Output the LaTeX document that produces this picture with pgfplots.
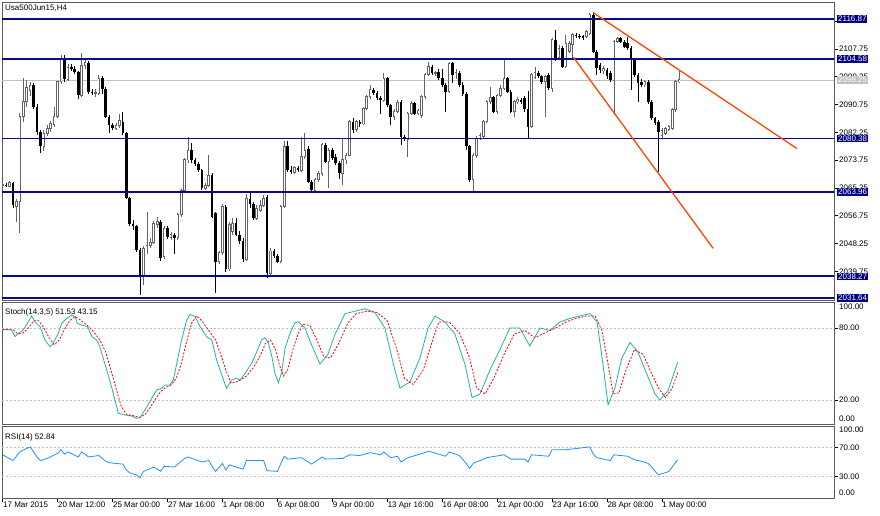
\documentclass[border=0pt]{standalone}
\usepackage{fontspec}
\setmainfont{Liberation Sans}
\usepackage{pgfplots}
\usepackage{pgfplotstable}
\pgfplotsset{compat=1.18}
\definecolor{mtnavy}{RGB}{0,0,128}
\definecolor{linenavy}{RGB}{8,8,138}
\definecolor{stochc}{RGB}{32,178,170}
\definecolor{rsic}{RGB}{30,144,255}
\definecolor{trend}{RGB}{255,69,0}
\definecolor{framec}{RGB}{90,90,90}
\definecolor{levelc}{RGB}{192,192,192}
\definecolor{bullc}{RGB}{100,100,100}
\newcommand\mtfont{\fontsize{8bp}{9bp}\selectfont}

\pgfplotstableread{
x o h l c
0 2066.0 2066.8 2065.2 2066.2
2 2065.8 2067.5 2065.4 2066.8
4 2059.5 2062.0 2054.9 2061.0
5 2061.0 2088.0 2051.5 2087.0
6 2087.0 2098.8 2085.5 2091.6
7 2091.6 2098.2 2090.0 2096.0
8 2095.0 2097.5 2093.5 2096.7
12 2078.0 2083.0 2076.5 2082.0
13 2082.0 2084.5 2081.0 2083.5
14 2083.5 2085.8 2082.5 2085.0
15 2084.5 2090.0 2084.0 2087.0
16 2087.0 2098.0 2086.5 2097.7
17 2097.7 2105.9 2097.0 2104.9
19 2098.5 2103.0 2097.8 2102.2
23 2093.6 2106.4 2093.0 2102.8
24 2102.8 2104.8 2101.5 2103.5
27 2094.3 2095.5 2093.0 2094.5
28 2094.2 2099.8 2093.8 2098.8
33 2083.5 2085.0 2083.0 2084.2
34 2084.2 2088.0 2083.5 2086.0
41 2038.6 2047.5 2035.6 2046.8
42 2046.0 2058.0 2045.0 2047.8
43 2047.8 2050.0 2047.0 2048.7
44 2048.7 2055.2 2048.0 2054.4
45 2054.0 2056.5 2053.0 2055.0
47 2044.2 2053.5 2043.5 2052.9
49 2050.0 2051.8 2049.5 2051.0
51 2050.0 2057.5 2049.5 2057.0
52 2057.0 2065.0 2056.5 2064.6
53 2064.6 2074.5 2064.0 2073.8
54 2073.8 2080.9 2073.0 2076.8
59 2065.1 2066.8 2064.5 2066.0
60 2066.0 2075.3 2065.5 2069.2
63 2042.7 2046.0 2042.0 2045.4
64 2045.4 2060.5 2044.8 2059.5
66 2040.5 2055.0 2040.0 2054.0
67 2052.0 2056.0 2051.0 2054.5
71 2043.5 2063.5 2043.0 2062.0
74 2056.0 2060.0 2055.5 2059.0
75 2058.5 2061.5 2058.0 2060.0
76 2060.0 2063.1 2059.5 2062.0
78 2039.2 2047.0 2038.0 2046.0
81 2042.7 2060.0 2042.2 2059.5
82 2059.5 2079.5 2059.0 2078.0
85 2070.0 2072.0 2069.5 2071.5
87 2070.7 2080.9 2070.0 2074.8
88 2074.8 2081.9 2074.0 2076.8
91 2064.6 2068.2 2063.8 2067.7
92 2067.7 2070.5 2067.0 2069.7
93 2069.7 2079.0 2069.0 2078.4
95 2073.3 2077.5 2065.1 2076.8
99 2069.7 2080.4 2066.1 2073.8
100 2073.8 2076.0 2072.5 2075.3
101 2075.3 2086.0 2075.0 2085.5
103 2083.0 2086.0 2082.5 2085.5
105 2084.8 2090.0 2084.5 2089.6
106 2089.6 2093.5 2089.0 2093.1
107 2093.1 2096.7 2092.5 2095.2
111 2092.0 2100.3 2091.5 2098.7
114 2087.0 2089.5 2086.0 2088.5
115 2088.5 2092.0 2088.0 2091.5
118 2080.0 2088.5 2074.8 2088.0
119 2088.0 2091.8 2087.5 2091.1
121 2088.0 2089.5 2087.5 2089.0
122 2087.5 2093.5 2086.5 2093.1
123 2093.1 2100.3 2092.5 2099.8
124 2099.8 2103.8 2099.3 2102.3
126 2100.3 2101.0 2099.5 2100.5
130 2094.7 2103.8 2094.2 2103.3
132 2099.8 2101.5 2098.5 2100.5
137 2067.8 2075.8 2063.6 2075.3
138 2075.3 2081.0 2074.5 2080.5
139 2080.5 2082.0 2079.8 2081.2
140 2080.9 2086.0 2080.3 2085.5
141 2085.5 2092.0 2085.0 2091.6
142 2091.6 2096.0 2091.0 2093.0
144 2088.6 2094.0 2088.0 2093.6
145 2093.6 2096.6 2093.0 2095.7
146 2095.7 2104.3 2095.2 2098.7
149 2088.6 2092.0 2087.0 2091.6
150 2091.6 2093.0 2091.0 2092.2
154 2084.0 2100.5 2083.5 2099.8
155 2099.0 2102.3 2098.5 2100.5
158 2097.7 2099.8 2087.0 2099.3
160 2095.7 2111.0 2094.5 2110.5
162 2105.0 2109.0 2104.5 2108.0
164 2102.3 2112.0 2101.8 2109.4
165 2107.0 2110.0 2106.5 2109.5
166 2109.0 2112.5 2105.0 2112.0
170 2111.4 2113.5 2111.0 2113.0
171 2112.5 2118.6 2112.0 2118.1
175 2101.0 2102.5 2100.0 2101.8
178 2098.2 2110.5 2087.5 2110.0
179 2110.0 2111.5 2109.5 2111.0
187 2096.7 2098.3 2096.2 2097.7
192 2081.4 2083.5 2080.3 2082.9
193 2082.0 2084.0 2081.5 2083.5
194 2083.0 2084.5 2082.5 2084.0
195 2083.5 2089.6 2083.0 2089.1
196 2089.1 2098.2 2088.6 2097.7
197 2097.7 2101.3 2097.2 2098.25
}\bull

\pgfplotstableread{
x o h l c
1 2066.2 2066.8 2065.5 2065.8
3 2066.8 2067.2 2059.0 2060.0
9 2096.7 2097.2 2089.5 2090.1
10 2090.1 2090.8 2081.5 2082.4
11 2082.4 2083.0 2075.8 2078.0
18 2104.9 2106.0 2097.6 2098.5
20 2102.2 2103.0 2101.0 2101.5
21 2101.5 2102.5 2100.0 2100.6
22 2100.6 2101.0 2092.5 2093.6
25 2103.5 2104.0 2094.0 2094.6
26 2094.6 2095.5 2093.8 2094.3
29 2098.8 2099.5 2094.0 2095.5
30 2095.5 2096.0 2086.5 2087.0
31 2087.0 2087.5 2082.0 2084.5
32 2084.5 2085.2 2083.0 2083.5
35 2085.5 2088.5 2081.5 2082.0
36 2082.0 2082.5 2061.8 2062.1
37 2062.1 2062.5 2053.5 2054.4
38 2054.4 2055.5 2052.5 2053.5
39 2053.5 2054.0 2045.8 2046.3
40 2046.3 2047.0 2032.5 2038.6
46 2055.0 2055.5 2043.0 2043.8
48 2052.9 2053.5 2049.8 2050.4
50 2051.0 2051.5 2045.0 2050.0
55 2076.8 2079.0 2073.0 2073.8
56 2073.8 2074.5 2072.0 2072.7
57 2072.7 2073.2 2070.0 2070.7
58 2070.7 2071.2 2064.5 2065.1
61 2069.2 2069.8 2056.0 2056.5
62 2057.5 2058.0 2033.1 2042.7
65 2059.5 2060.0 2039.5 2040.5
68 2054.5 2056.0 2050.5 2051.0
69 2051.0 2052.0 2048.0 2049.0
70 2049.0 2050.0 2042.7 2043.5
72 2062.0 2064.0 2059.0 2060.5
73 2060.5 2061.0 2055.5 2056.0
77 2062.5 2063.0 2037.6 2039.2
79 2046.0 2046.5 2044.0 2044.5
80 2044.5 2045.0 2042.2 2042.7
83 2078.0 2079.5 2070.2 2070.7
84 2070.7 2072.0 2069.5 2070.0
86 2071.5 2072.0 2070.0 2070.7
89 2077.3 2078.0 2066.8 2067.2
90 2067.2 2067.8 2063.8 2064.6
94 2078.4 2079.0 2072.8 2073.3
96 2076.8 2077.5 2073.8 2074.3
97 2074.8 2075.5 2072.3 2072.8
98 2072.8 2073.5 2068.0 2069.7
102 2085.5 2086.5 2082.0 2083.0
104 2085.5 2086.0 2084.0 2084.8
108 2095.2 2095.8 2093.5 2094.2
109 2094.2 2094.8 2092.0 2092.6
110 2092.6 2093.5 2088.0 2092.0
112 2098.7 2099.2 2090.0 2090.6
113 2090.6 2091.0 2084.5 2087.0
116 2091.5 2092.0 2078.4 2080.9
117 2080.9 2081.5 2079.5 2080.3
120 2091.1 2091.5 2087.5 2088.0
125 2102.3 2102.8 2099.8 2100.3
127 2100.8 2101.5 2098.2 2098.7
128 2099.0 2101.5 2096.2 2096.7
129 2096.7 2097.2 2088.6 2094.7
131 2103.3 2103.8 2097.2 2099.8
133 2100.5 2101.0 2096.2 2096.7
134 2096.7 2097.5 2093.5 2094.0
135 2094.0 2094.5 2077.0 2078.0
136 2078.0 2078.5 2067.2 2067.8
143 2093.0 2093.5 2088.2 2088.6
147 2098.7 2099.2 2094.2 2094.7
148 2094.7 2095.2 2088.0 2088.6
151 2092.2 2092.8 2091.0 2091.6
152 2092.6 2093.2 2088.5 2089.5
153 2089.5 2095.0 2080.4 2084.0
156 2100.5 2101.0 2098.8 2099.3
157 2099.3 2099.8 2097.0 2097.7
159 2099.8 2100.3 2095.2 2095.7
161 2110.5 2113.5 2104.0 2105.0
163 2108.0 2108.5 2101.8 2102.3
167 2112.0 2112.5 2111.0 2111.7
168 2111.7 2112.3 2110.8 2111.5
169 2111.5 2112.0 2110.5 2111.4
172 2118.1 2119.0 2106.5 2106.9
173 2106.9 2107.5 2099.8 2101.8
174 2102.8 2103.5 2100.5 2101.3
176 2101.3 2101.8 2098.5 2099.3
177 2100.3 2101.0 2097.5 2098.2
180 2111.0 2111.5 2109.5 2110.0
181 2110.0 2110.5 2108.0 2108.4
182 2109.4 2111.5 2107.5 2107.9
183 2107.9 2108.5 2095.2 2104.5
184 2104.5 2105.0 2099.3 2099.8
185 2099.8 2100.3 2091.6 2097.2
186 2097.7 2098.5 2096.2 2096.7
188 2097.7 2098.2 2091.0 2091.6
189 2091.6 2092.0 2086.0 2086.5
190 2086.5 2087.0 2084.5 2085.0
191 2085.5 2086.0 2070.2 2082.4
}\bear

\pgfplotsset{
  mt/.style={
    scale only axis, width=832bp, anchor=south west,
    xmin=-0.2, xmax=242.1,
    axis line style={draw=framec, line width=0.8bp},
    tick style={draw=black, line width=0.6bp},
    tick align=outside, major tick length=4bp,
    ytick pos=right,
    ticklabel style={font=\mtfont, inner sep=0pt},
    yticklabel style={anchor=west, xshift=1bp},
    clip=true,
  },
  wick/.style={draw=none, forget plot, mark=none,
    error bars/.cd, y dir=both, y explicit, error mark=none,
    error bar style={line width=0.8bp, draw=#1}},
  body/.style 2 args={draw=none, forget plot, mark=none,
    error bars/.cd, y dir=both, y explicit, error mark=none,
    error bar style={line width=#2, draw=#1}},
}

\begin{document}
\begin{tikzpicture}
\useasboundingbox (0bp,0bp) rectangle (880bp,516bp);

% ---------------- main price window ----------------
\begin{axis}[mt, at={(2bp,216bp)}, height=298bp,
  ymin=2031.02, ymax=2122.06, xtick=\empty,
  ytick={2039.75,2048.25,2056.75,2065.25,2073.75,2082.25,2090.75,2099.25,2107.75,2116.25},
  yticklabels={2039.75,2048.25,2056.75,2065.25,2073.75,2082.25,2090.75,2099.25,2107.75,2116.25},
  extra y ticks={2116.87,2104.58,2080.38,2063.96,2038.27,2031.64},
  extra y tick labels={2116.87,2104.58,2080.38,2063.96,2038.27,2031.64},
  extra y tick style={tick style={draw=none},
    yticklabel style={fill=mtnavy, text=white, inner sep=0.9bp, xshift=-1.9bp}},
]
\addplot[levelc, line width=0.8bp, forget plot] coordinates {(-5,2098.25) (250,2098.25)};
% wicks
\addplot[wick=bullc] table[x=x, y expr={(\thisrow{h}+\thisrow{l})/2}, y error expr={(\thisrow{h}-\thisrow{l})/2}] {\bull};
\addplot[wick=black] table[x=x, y expr={(\thisrow{h}+\thisrow{l})/2}, y error expr={(\thisrow{h}-\thisrow{l})/2}] {\bear};
% bodies
\addplot[body={black}{2.6bp}] table[x=x, y expr={(\thisrow{o}+\thisrow{c})/2}, y error expr={max(abs(\thisrow{o}-\thisrow{c})/2,0.2)}] {\bear};
\addplot[body={bullc}{2.6bp}] table[x=x, y expr={(\thisrow{o}+\thisrow{c})/2}, y error expr={max(abs(\thisrow{o}-\thisrow{c})/2+0.15,0.3)}] {\bull};
\addplot[body={white}{1.0bp}] table[x=x, y expr={(\thisrow{o}+\thisrow{c})/2}, y error expr={max(abs(\thisrow{o}-\thisrow{c})/2-0.15,0)}] {\bull};
% horizontal levels
\foreach \lv in {2116.87,2104.58,2080.38,2063.96,2038.27,2031.64}{
  \addplot[linenavy, line width=1.7bp, forget plot] coordinates {(-5,\lv) (250,\lv)};
}
% trend lines
\addplot[trend, line width=1.3bp, forget plot] coordinates {(172.0,2118.8) (231.3,2077.3)};
\addplot[trend, line width=1.3bp, forget plot] coordinates {(166.2,2105.2) (206.9,2046.8)};
\node[anchor=west, font=\mtfont, inner sep=0pt] at (rel axis cs:0.0036,0.979) {Usa500Jun15,H4};
\end{axis}

% current price box
\begin{axis}[mt, at={(2bp,216bp)}, height=298bp,
  ymin=2031.02, ymax=2122.06, xtick=\empty,
  axis line style={draw=none},
  ytick={2098.25}, yticklabels={2098.25},
  tick style={draw=none},
  yticklabel style={fill=levelc, text=white, inner sep=0.9bp, xshift=-1.9bp},
]
\end{axis}

% ---------------- stochastic ----------------
\begin{axis}[mt, at={(2bp,92bp)}, height=122bp,
  ymin=0, ymax=101.67, xtick=\empty,
  ytick={20,80}, yticklabels={20.00,80.00},
  extra y ticks={97.75,4.2}, extra y tick labels={100.00,0.00},
  extra y tick style={tick style={draw=none}},
]
\addplot[levelc, dash pattern=on 2bp off 2bp, line width=0.7bp, forget plot] coordinates {(-5,80) (250,80)};
\addplot[levelc, dash pattern=on 2bp off 2bp, line width=0.7bp, forget plot] coordinates {(-5,20) (250,20)};
\addplot[stochc, line width=0.8bp, forget plot] coordinates {
(-0.3,78.3) (1.2,78.9) (2.6,78.3) (3.6,72.8) (4.6,75.6) (6.0,78.3) (7.5,85.3) (8.4,90) (9.4,85.3) (10.9,81.1) (12.3,70) (13.8,64.4) (14.7,67.2) (16.2,75.6) (17.2,83.9) (18.6,88) (20.1,90.8) (21.1,89.5) (21.7,83.9) (23.0,82.5) (24.7,81.1) (26.0,72.8) (27.4,70) (28.3,64.4) (30.3,45) (31.7,31.1) (33.7,8.9) (35.6,7.5) (37.6,6.7) (39.0,4.7) (40.0,5.3) (42.0,14.4) (43.4,21.4) (44.8,28.3) (46.3,29.7) (47.3,32.5) (48.7,32.5) (49.7,36.7) (50.7,50.6) (52.1,70) (53.6,86.7) (54.6,91.4) (56.0,89.5) (57.5,81.1) (59.4,72.8) (60.9,70) (62.3,53.3) (63.8,40.8) (65.2,29.7) (66.7,36.7) (68.1,38.1) (69.1,36.7) (70.6,42.2) (72.5,50.6) (74.0,60.3) (75.4,70) (76.4,72) (77.4,67.2) (78.4,56.1) (79.3,42.2) (80.3,34.4) (81.3,43.6) (82.2,63) (83.7,75.6) (85.1,84.4) (86.1,85.3) (88.0,80) (90.1,65) (92.4,50) (94.7,58) (96.8,75) (99.7,92) (102.6,94) (105.5,96) (108.4,93) (111.3,80) (114.2,45) (115.7,30) (118.6,35) (121.5,55) (123.9,80) (125.9,90) (128.8,85) (131.7,75) (134.6,50) (136.7,22) (139.0,25) (141.9,45) (144.8,62) (147.7,80) (150.6,80) (153.5,65) (156.5,80) (159.4,78) (162.3,85) (165.2,88) (168.1,90) (171.0,92) (173.1,85) (174.8,50) (176.3,16) (178.3,30) (180.3,55) (182.7,68) (185.0,60) (187.1,45) (190.0,25) (191.4,20) (193.8,28) (196.6,51.53)};
\addplot[red, dash pattern=on 2bp off 1.5bp, line width=0.8bp, forget plot] coordinates {
(0,79) (1.5,78.5) (3,78.5) (4.5,75) (6,76) (7.5,80) (9,86) (10.5,86) (12,80) (13.5,72) (15,66) (16.5,70) (18,79) (19.5,86) (21,89.5) (22.5,87) (24,83.5) (25.5,80) (27,75) (28.5,69) (30,60) (31.5,45) (33,30) (34.5,15) (36,8) (38,7) (40,5.5) (41.5,8) (43,14) (44.5,21) (46,27) (47.5,30.5) (49,32.5) (50.5,38) (52,50) (53.5,68) (55,84) (56.5,90) (58,86) (60,78) (62,70) (63.5,58) (65,45) (66.5,34) (68,35) (69.5,37) (71,40) (73,47) (75,57) (76.5,67) (78,70) (79.5,62) (80.5,50) (81.8,40) (83,45) (84.5,62) (86,75) (87.5,83) (89.5,82) (91.5,70) (93.5,56) (95.5,55) (98,68) (100.5,84) (103,92) (106,94) (109,93) (112,86) (115,60) (117,38) (119.5,33) (122.5,45) (125,68) (127,85) (130,85) (133,76) (136,55) (138,30) (140.5,25) (143,38) (146,58) (149,75) (152,78) (155,72) (158,76) (161,80) (164,85) (167,88) (170,90) (172.5,90) (174.5,78) (176,55) (177.8,25) (179.5,26) (181.5,45) (184,62) (186.5,58) (188.5,45) (191,30) (193,22) (195,30) (196.6,43.15)};
\node[anchor=west, font=\mtfont, inner sep=0pt] at (rel axis cs:0.0036,0.918) {Stoch(14,3,5) 51.53 43.15};
\end{axis}

% ---------------- RSI ----------------
\begin{axis}[mt, at={(2bp,18bp)}, height=72bp,
  ymin=0, ymax=100,
  ytick={30,70}, yticklabels={30.00,70.00},
  extra y ticks={94.8,7.9}, extra y tick labels={100.00,0.00},
  extra y tick style={tick style={draw=none}},
  xtick={0,16,32,48,64,80,96,112,128,144,160,176,192},
  xticklabels={17 Mar 2015,20 Mar 12:00,25 Mar 00:00,27 Mar 16:00,1 Apr 08:00,6 Apr 08:00,9 Apr 00:00,13 Apr 16:00,16 Apr 08:00,21 Apr 00:00,23 Apr 16:00,28 Apr 08:00,1 May 00:00},
  xtick pos=bottom,
  xticklabel style={anchor=north west, xshift=0.3bp},
]
\addplot[levelc, dash pattern=on 2bp off 2bp, line width=0.7bp, forget plot] coordinates {(-5,70) (250,70)};
\addplot[levelc, dash pattern=on 2bp off 2bp, line width=0.7bp, forget plot] coordinates {(-5,30) (250,30)};
\addplot[rsic, line width=0.8bp, forget plot] coordinates {
(0,60) (3,52) (5,64) (7,69) (8,71) (9,64) (10,57) (11,52) (13,55) (16,62) (17,67) (18,61) (19,64) (22,57) (23,64) (25,57) (28,59) (30,51) (31,49) (35,47) (36,39) (37,35) (39,32) (40,28) (41,37) (44,43) (46,37) (47,44) (50,43) (53,55) (54,57) (58,50) (60,52) (61,44) (62,37) (64,48) (65,39) (66,46) (70,40) (71,52) (76,52) (77,38) (80,37) (81,48) (82,58) (83,54) (87,56) (89,50) (90,47) (93,57) (94,54) (99,55) (101,60) (104,59) (107,63) (110,60) (111,64) (113,56) (115,58) (116,50) (118,56) (123,63) (124,65) (129,58) (130,64) (133,59) (135,48) (136,41) (137,48) (141,56) (146,60) (148,54) (152,54) (153,50) (154,60) (159,58) (160,67) (164,67) (171,71) (172,61) (173,56) (177,52) (178,60) (182,58) (184,53) (186,51) (188,48) (189,43) (190,37) (191,32) (192,34) (193,35) (194,37) (195,43) (196,50) (196.6,52.84)};
\node[anchor=west, font=\mtfont, inner sep=0pt] at (rel axis cs:0.0036,0.847) {RSI(14) 52.84};
\end{axis}
\end{tikzpicture}
\end{document}
